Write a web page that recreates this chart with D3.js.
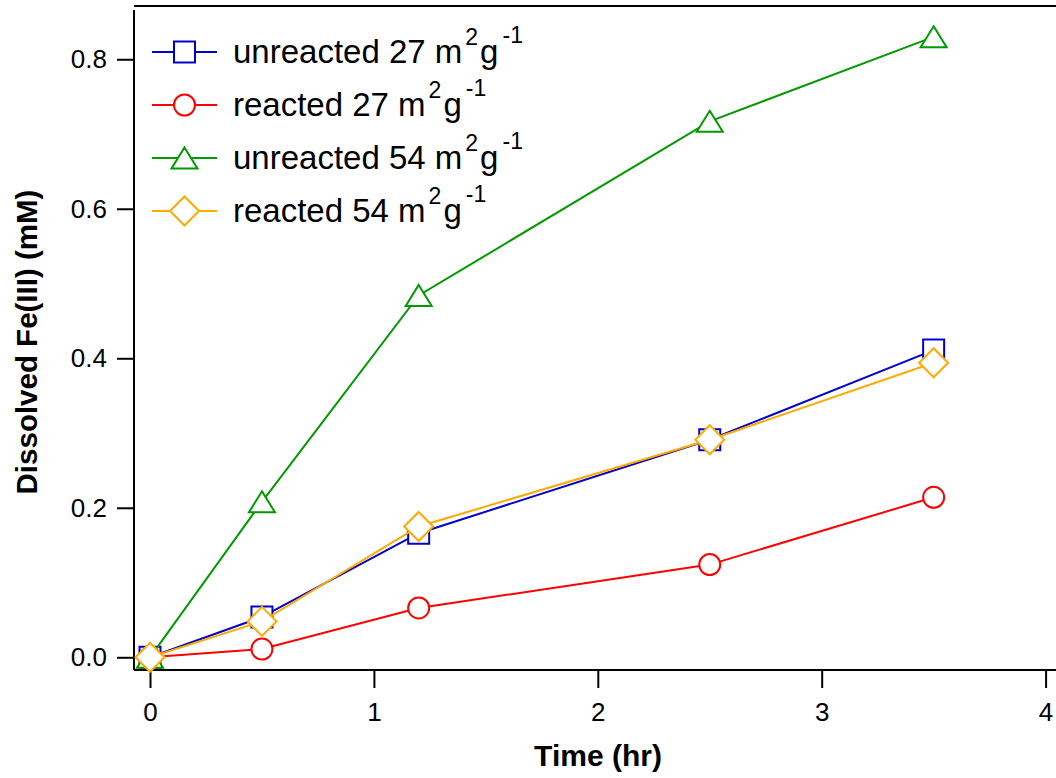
<!DOCTYPE html>
<html><head><meta charset="utf-8">
<script src="https://cdn.jsdelivr.net/npm/d3@7"></script>
<style>body{margin:0;background:#fff}svg{display:block}</style>
</head><body>
<svg id="c" width="1056" height="778"></svg>
<script>
const time = [0, 0.5, 1.2, 2.5, 3.5];
const unreacted27 = [0, 0.054, 0.166, 0.291, 0.411];
const reacted27 = [0, 0.011, 0.066, 0.124, 0.214];
const unreacted54 = [0, 0.208, 0.484, 0.717, 0.830];
const reacted54 = [0, 0.048, 0.175, 0.291, 0.394];
const seriesNames = ["unreacted 27", "reacted 27", "unreacted 54", "reacted 54"];
const seriesColors = ["#0000cc", "#ff0000", "#009a00", "#ffaa00"];
const seriesMarkers = ["square", "circle", "triangle", "diamond"];
const xTicks = [0, 1, 2, 3, 4];
const yTicks = [0, 0.2, 0.4, 0.6, 0.8];

const series = [unreacted27, reacted27, unreacted54, reacted54].map((v, i) => ({
  name: seriesNames[i], color: seriesColors[i], marker: seriesMarkers[i],
  pts: time.map((t, j) => [t, v[j]])
}));

const svg = d3.select("#c");
const font = "'Liberation Sans', Arial, sans-serif";
const x = d3.scaleLinear().domain([-0.0715, 4.0465]).range([134, 1056]);
const y = d3.scaleLinear().domain([-0.017, 0.8659]).range([670, 10]);

function markerPath(type) {
  if (type === "square") return "M-10.5,-10.5H10.5V10.5H-10.5Z";
  if (type === "circle") return "M10.5,0A10.5,10.5 0 1,1 -10.5,0A10.5,10.5 0 1,1 10.5,0Z";
  if (type === "triangle") return "M0,-10.5L13,10.5H-13Z";
  return "M0,-14.5L14.5,0L0,14.5L-14.5,0Z";
}

// frame top line
svg.append("line").attr("x1", 134).attr("x2", 1056).attr("y1", 6).attr("y2", 6)
  .attr("stroke", "#000").attr("stroke-width", 2);

// axes
const xAxis = d3.axisBottom(x).tickValues(xTicks).tickFormat(d3.format("d")).tickSizeOuter(0).tickSizeInner(18).tickPadding(15);
const gx = svg.append("g").attr("transform", "translate(0,670)").call(xAxis);
const yAxis = d3.axisLeft(y).tickValues(yTicks).tickFormat(d3.format(".1f")).tickSizeOuter(0).tickSizeInner(17).tickPadding(10);
const gy = svg.append("g").attr("transform", "translate(134,0)").call(yAxis);
[gx, gy].forEach(g => {
  g.select(".domain").attr("stroke", "#000").attr("stroke-width", 2);
  g.selectAll(".tick line").attr("stroke", "#000").attr("stroke-width", 2);
  g.selectAll(".tick text").attr("fill", "#000").style("font-family", font).style("font-size", "26px");
});
gy.select(".domain").attr("d", "M0,10V670");
gx.select(".domain").attr("d", "M134,0H1056");

// axis titles
svg.append("text").attr("x", 598).attr("y", 766).attr("text-anchor", "middle")
  .style("font-family", font).style("font-size", "30px").style("font-weight", "bold")
  .text("Time (hr)");
svg.append("text").attr("transform", "translate(37,342) rotate(-90)").attr("text-anchor", "middle")
  .style("font-family", font).style("font-size", "29.5px").style("font-weight", "bold")
  .text("Dissolved Fe(III) (mM)");

// series
const line = d3.line().x(d => x(d[0])).y(d => y(d[1]));
series.forEach(s => {
  const g = svg.append("g");
  g.append("path").attr("d", line(s.pts)).attr("fill", "none").attr("stroke", s.color).attr("stroke-width", 2);
  g.selectAll("path.m").data(s.pts).join("path").attr("class", "m")
    .attr("transform", d => `translate(${x(d[0])},${y(d[1])})`)
    .attr("d", markerPath(s.marker)).attr("fill", "#fff").attr("stroke", s.color).attr("stroke-width", 2);
});

// legend
const leg = svg.append("g");
series.forEach((s, i) => {
  const cy = 52 + i * 53;
  leg.append("line").attr("x1", 152).attr("x2", 217).attr("y1", cy).attr("y2", cy)
    .attr("stroke", s.color).attr("stroke-width", 2);
  leg.append("path").attr("transform", `translate(184.5,${cy})`).attr("d", markerPath(s.marker))
    .attr("fill", "#fff").attr("stroke", s.color).attr("stroke-width", 2);
  const t = leg.append("text").attr("x", 233).attr("y", cy + 11)
    .style("font-family", font).style("font-size", "33px").attr("fill", "#000");
  t.append("tspan").text(s.name + " m");
  t.append("tspan").attr("dx", 3).attr("dy", -18).style("font-size", "23px").text("2");
  t.append("tspan").attr("dx", 2).attr("dy", 18).text("g");
  t.append("tspan").attr("dx", 4).attr("dy", -20).style("font-size", "23px").text("-1");
});
</script>
</body></html>
